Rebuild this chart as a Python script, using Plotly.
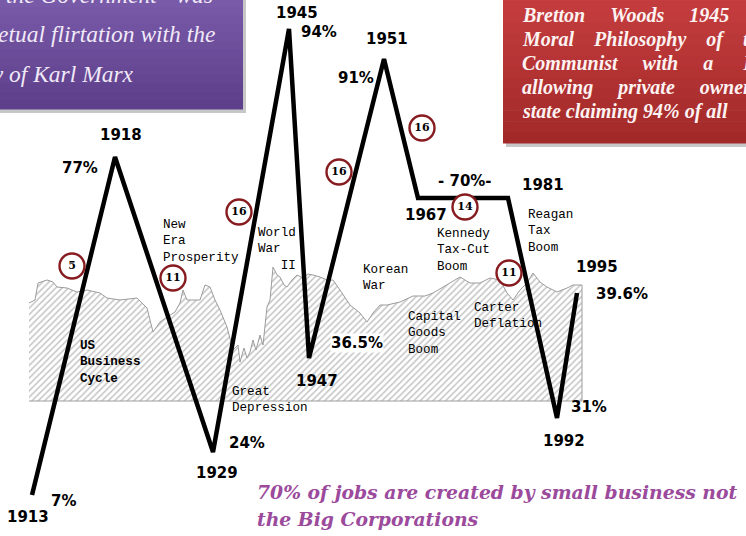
import plotly.graph_objects as go

# ---------------- data ----------------
tax_years = ["1913", "1918", "1929", "1945", "1947", "1951", "1967", "1981", "1992", "1995"]
tax_rate_labels = ["7%", "77%", "24%", "94%", "36.5%", "91%", "- 70%-", "", "31%", "39.6%"]
# hand-drawn (schematic, non-linear) line: position along the sketch and drawn level
sketch_pos = [32, 115, 213, 289, 309, 384, 418, 508, 557, 577]
sketch_level = [41, 379, 84, 507, 178, 477, 338, 338, 118, 243]

# US business cycle silhouette (hatched area), sketch units
cycle_pos = [29, 35, 38, 47, 53, 57, 67, 77, 87, 100, 107, 120, 137, 147, 153, 160, 167, 175, 180,
             183, 187, 200, 205, 210, 215, 220, 227, 233, 238, 240, 244, 247, 250, 253, 256, 260,
             263, 267, 270, 273, 277, 280, 284, 287, 292, 297, 303, 308, 313, 320, 327, 333, 340,
             350, 360, 367, 373, 380, 387, 400, 413, 425, 433, 447, 455, 460, 470, 480, 490, 500,
             507, 513, 520, 527, 533, 540, 547, 557, 567, 573, 582]
cycle_level = [233, 236, 253, 256, 254, 249, 248, 244, 246, 243, 238, 236, 238, 228, 204, 214, 219,
               224, 233, 246, 236, 236, 251, 249, 236, 226, 209, 186, 191, 174, 188, 178, 184, 196,
               186, 201, 191, 229, 236, 269, 261, 259, 251, 249, 256, 261, 258, 262, 261, 259, 256,
               256, 246, 231, 223, 214, 223, 231, 231, 234, 240, 240, 243, 251, 256, 259, 253, 253,
               258, 256, 243, 236, 246, 253, 263, 254, 249, 244, 248, 251, 251]
cycle_base = 135

# circled numbers on the line
circle_labels = ["5", "11", "16", "16", "16", "14", "11"]
circle_pos = [72, 173, 239, 339, 422, 465, 509]
circle_level = [270, 258, 324, 364, 408, 329, 263]

W, H = 746, 536

fig = go.Figure()

# hatched business-cycle area
fig.add_trace(go.Scatter(
    x=cycle_pos + [cycle_pos[-1], cycle_pos[0]],
    y=cycle_level + [cycle_base, cycle_base],
    mode="lines", fill="toself",
    line=dict(color="#9c9c9c", width=1),
    fillcolor="white",
    fillpattern=dict(shape="/", fgcolor="#8a8a8a", bgcolor="white", size=4.5, solidity=0.33),
    hoverinfo="skip", showlegend=False))

# tax-rate line
fig.add_trace(go.Scatter(
    x=sketch_pos, y=sketch_level, mode="lines",
    line=dict(color="black", width=4.5),
    showlegend=False, hoverinfo="skip"))

# circled numbers
fig.add_trace(go.Scatter(
    x=circle_pos, y=circle_level, mode="markers+text",
    text=circle_labels, textposition="middle center",
    textfont=dict(family="DejaVu Serif", size=11, color="black", weight="bold"),
    marker=dict(size=25, color="white", line=dict(color="#861c1f", width=2.4)),
    showlegend=False, hoverinfo="skip"))

shapes = []
annotations = []


def px(x, y):
    return x, H - y


def add_text(text, x, y, size=15, family="DejaVu Sans", bold=True, color="black",
             xanchor="center", yanchor="middle", italic=False, bg=None):
    X, Y = px(x, y)
    annotations.append(dict(
        text=text, x=X, y=Y, xref="x", yref="y", showarrow=False,
        xanchor=xanchor, yanchor=yanchor, align="left",
        font=dict(family=family, size=size, color=color,
                  weight="bold" if bold else "normal",
                  style="italic" if italic else "normal"),
        bgcolor=bg, borderpad=0))


# gradient boxes (layout decoration)
def grad_box(x0, y0, x1, y1, c_top, c_bot, n=14):
    X0, Y0 = px(x0 + 3, y1 + 4)
    X1, Y1 = px(x1 + 3, y0)
    shapes.append(dict(type="rect", xref="x", yref="y", x0=X0, x1=X1, y0=Y0, y1=Y1,
                       fillcolor="rgba(0,0,0,0.22)", line=dict(width=0), layer="above"))

    def hx(c):
        return [int(c[i:i + 2], 16) for i in (1, 3, 5)]
    a, b = hx(c_top), hx(c_bot)
    for i in range(n):
        t = i / (n - 1)
        col = "rgb(%d,%d,%d)" % tuple(round(a[k] + (b[k] - a[k]) * t) for k in range(3))
        ya = y0 + (y1 - y0) * i / n
        yb = y0 + (y1 - y0) * (i + 1) / n + 0.6
        X0, Y0 = px(x0, yb)
        X1, Y1 = px(x1, ya)
        shapes.append(dict(type="rect", xref="x", yref="y", x0=X0, x1=X1, y0=Y0, y1=Y1,
                           fillcolor=col, line=dict(width=0), layer="above"))


grad_box(-10, -10, 243, 109, "#7a5cab", "#5d3f8b")
grad_box(503, -10, 760, 143, "#c63e3f", "#a32929")

# purple box text
add_text("the Government - was", 214, 9, size=23.5, family="Liberation Serif", bold=False,
         italic=True, color="#f1e9f7", xanchor="right", yanchor="bottom")
for t, x, y in [("perpetual flirtation with the", 216, 34),
                ("philosophy of Karl Marx", 135, 74)]:
    add_text(t, x, y, size=23.5, family="Liberation Serif", bold=False, italic=True,
             color="#f1e9f7", xanchor="right")

# red box text
nb = "\u00a0"
red_lines = [("Bretton" + nb * 5 + "Woods" + nb * 5 + "1945" + nb * 4 + "was", 15),
             ("Moral" + nb * 4 + "Philosophy" + nb * 4 + "of" + nb * 4 + "the", 39),
             ("Communist" + nb * 5 + "with" + nb * 5 + "a" + nb * 6 + "Fascist", 63),
             ("allowing" + nb * 5 + "private" + nb * 5 + "ownership", 87),
             ("state claiming 94% of all", 111)]
for t, y in red_lines:
    add_text(t, 521, y, size=20, family="Liberation Serif", bold=True, italic=True,
             color="#fdf3f3", xanchor="left")

# year / rate labels
year_xy = [(28, 517), (121, 135), (217, 473), (297, 13), (317, 381), (387, 39),
           (426, 215), (543, 185), (564, 441), (597, 267)]
rate_xy = [(63, 501), (80, 168), (247, 443), (319, 32), (357, 343), (356, 78),
           (465, 181), None, (589, 407), (622, 294)]
for lab, xy in zip(tax_years, year_xy):
    add_text(lab, xy[0], xy[1])
for lab, xy in zip(tax_rate_labels, rate_xy):
    if xy and lab:
        add_text(lab, xy[0], xy[1], bg="white" if lab == "36.5%" else None)

# small event labels
mono = "Liberation Mono"
events = [("New<br>Era<br>Prosperity", 162, 241),
          ("World<br>War<br>" + nb * 3 + "II", 257, 249),
          ("Korean<br>War", 362, 278),
          ("Capital<br>Goods<br>Boom", 407, 333),
          ("Great<br>Depression", 231, 400),
          ("Kennedy<br>Tax-Cut<br>Boom", 436, 250),
          ("Reagan<br>Tax<br>Boom", 527, 231),
          ("Carter<br>Deflation", 473, 316)]
for t, x, y in events:
    add_text(t, x, y, size=12.6, family=mono, bold=False, xanchor="left")
add_text("US<br>Business<br>Cycle", 79, 362, size=12.6, family=mono, bold=True, xanchor="left")

# bottom caption
for t, y in [("70% of jobs are created by small business not", 492),
             ("the Big Corporations", 519)]:
    add_text(t, 256, y, size=18.8, family="DejaVu Serif", bold=True, italic=True,
             color="#9b4a9c", xanchor="left")

fig.update_layout(
    width=W, height=H, margin=dict(l=0, r=0, t=0, b=0),
    paper_bgcolor="white", plot_bgcolor="white",
    xaxis=dict(range=[0, W], visible=False, fixedrange=True),
    yaxis=dict(range=[0, H], visible=False, fixedrange=True),
    shapes=shapes, annotations=annotations, showlegend=False)

fig.write_html("out.html", config={"displayModeBar": False},
               post_script="document.body.style.margin='0';document.body.style.overflow='hidden';")
